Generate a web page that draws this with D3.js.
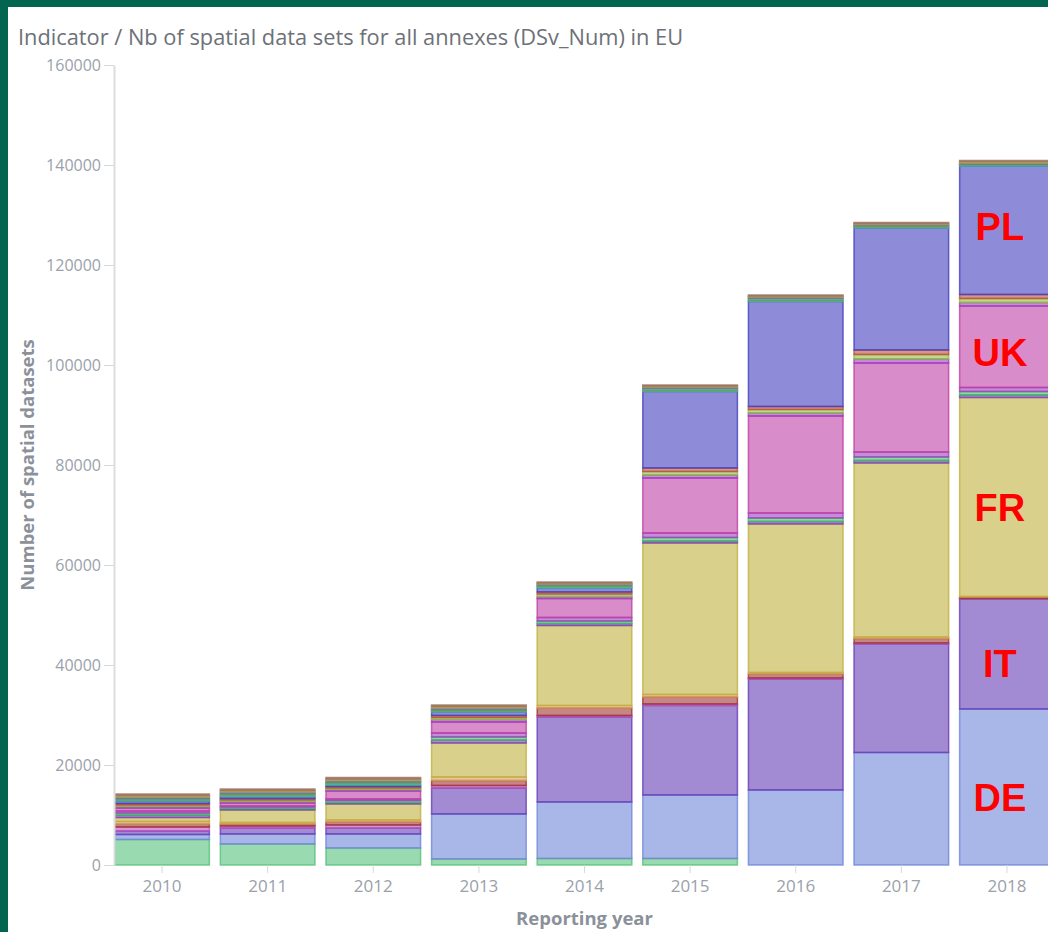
<!DOCTYPE html>
<html>
<head>
<meta charset="utf-8">
<script src="https://cdn.jsdelivr.net/npm/d3@7"></script>
<style>
  html, body { margin: 0; padding: 0; overflow: hidden; background: #02654f; }
  svg { display: block; }
</style>
</head>
<body>
<script>
// data
var years = ["2010", "2011", "2012", "2013", "2014", "2015", "2016", "2017", "2018"];
var yTicks = [0, 20000, 40000, 60000, 80000, 100000, 120000, 140000, 160000];

// datasets per country and year, listed in stack order (bottom to top)
var BE = [5100, 4200, 3400, 1200, 1300, 1300, 0, 0, 0];
var DE = [1000, 2000, 2800, 9000, 11300, 12700, 15000, 22500, 31200];
var IT = [700, 1200, 1200, 5200, 17000, 17900, 22200, 21700, 22000];
var SE = [800, 400, 600, 500, 300, 300, 200, 200, 100];
var ES = [600, 400, 600, 1000, 1500, 1400, 800, 900, 300];
var NL = [500, 300, 400, 700, 500, 500, 300, 300, 100];
var FR = [800, 2500, 3200, 6800, 16000, 30300, 29700, 34800, 39800];
var CZ = [500, 300, 300, 600, 400, 400, 500, 500, 500];
var FI = [400, 300, 400, 600, 500, 700, 700, 700, 700];
var AT = [400, 200, 300, 800, 700, 900, 1000, 1000, 800];
var UK = [600, 600, 1600, 2200, 3800, 11000, 19400, 17800, 16300];
var HU = [300, 300, 300, 500, 400, 600, 600, 800, 700];
var SK = [300, 300, 300, 400, 500, 700, 700, 900, 800];
var PT = [300, 300, 300, 400, 400, 700, 600, 900, 800];
var PL = [500, 400, 300, 700, 800, 15300, 21000, 24400, 25700];
var RO = [200, 300, 300, 200, 300, 200, 200, 200, 200];
var LT = [300, 300, 300, 300, 300, 400, 400, 300, 200];
var SI = [300, 300, 300, 300, 200, 300, 300, 200, 200];
var HR = [300, 300, 300, 300, 200, 200, 200, 200, 300];
var LV = [300, 300, 300, 300, 200, 200, 200, 200, 200];

var countries = ["BE", "DE", "IT", "SE", "ES", "NL", "FR", "CZ", "FI", "AT",
                 "UK", "HU", "SK", "PT", "PL", "RO", "LT", "SI", "HR", "LV"];
var countryValues = [BE, DE, IT, SE, ES, NL, FR, CZ, FI, AT,
                     UK, HU, SK, PT, PL, RO, LT, SI, HR, LV];
var countryColors = ["#57c17b", "#6f87d8", "#663db8", "#bc52bc", "#9e3533", "#daa05d",
                     "#bfb040", "#7a40bf", "#40bf60", "#a040bf", "#bf40a6", "#9f40bf",
                     "#8fbf40", "#bf4d40", "#4340bf", "#40bf9f", "#6a9a50", "#5a78b0",
                     "#bf9f40", "#9a7060"];

// countries highlighted with red labels on the last bar
var labelled = ["DE", "IT", "FR", "UK", "PL"];
var labelDy = { DE: 24, IT: 23, FR: 24, UK: 19, PL: 10 };

// build rows for d3.stack
var rows = years.map(function(y, i) {
  var r = { year: y };
  countries.forEach(function(c, j) { r[c] = countryValues[j][i]; });
  return r;
});

var svgWidth = 1048;
var svgHeight = 932;

var svg = d3.select("body")
  .append("svg")
  .attr("width", svgWidth)
  .attr("height", svgHeight);

// dark green frame and white panel
svg.append("rect")
  .attr("width", svgWidth)
  .attr("height", svgHeight)
  .attr("fill", "#02654f");
svg.append("rect")
  .attr("x", 8)
  .attr("y", 7)
  .attr("width", svgWidth - 8)
  .attr("height", svgHeight - 7)
  .attr("fill", "#ffffff");

// title
svg.append("text")
  .attr("x", 18)
  .attr("y", 45)
  .attr("font-family", "Open Sans")
  .attr("font-size", 21.8)
  .attr("fill", "#6d7178")
  .text("Indicator / Nb of spatial data sets for all annexes (DSv_Num) in EU");

// scales
var plotLeft = 114, plotRight = 1055, plotTop = 65, plotBottom = 865;

var yScale = d3.scaleLinear()
  .domain([0, 160000])
  .range([plotBottom, plotTop]);

var xScale = d3.scaleBand()
  .domain(years)
  .range([plotLeft, plotRight])
  .paddingInner(0.09)
  .paddingOuter(0);

var stacked = d3.stack().keys(countries)(rows);

// bars
var layers = svg.append("g")
  .selectAll("g")
  .data(stacked)
  .join("g")
  .attr("fill", function(d, i) { return countryColors[i]; })
  .attr("stroke", function(d, i) { return countryColors[i]; });

layers.selectAll("rect")
  .data(function(d) { return d.filter(function(p) { return p[1] - p[0] > 0; }); })
  .join("rect")
  .attr("x", function(d) { return xScale(d.data.year) + 0.75; })
  .attr("width", xScale.bandwidth() - 1.5)
  .attr("y", function(d) { return yScale(d[1]); })
  .attr("height", function(d) { return yScale(d[0]) - yScale(d[1]); })
  .attr("fill-opacity", 0.6)
  .attr("stroke-opacity", 0.8)
  .attr("stroke-width", 1.5);

// y axis
var yAxis = d3.axisLeft(yScale)
  .tickValues(yTicks)
  .tickFormat(d3.format("d"))
  .tickSize(10)
  .tickSizeOuter(0)
  .tickPadding(3);

var yAxisG = svg.append("g")
  .attr("transform", "translate(" + plotLeft + ",0)")
  .call(yAxis);
yAxisG.select(".domain").attr("stroke", "#dddddd").attr("stroke-width", 2);
yAxisG.selectAll(".tick line").attr("stroke", "#d8d8d8");
yAxisG.selectAll(".tick text")
  .attr("font-family", "Open Sans")
  .attr("font-size", 16)
  .attr("fill", "#9aa1aa");

// x axis
var xAxis = d3.axisBottom(xScale)
  .tickSize(8)
  .tickSizeOuter(0)
  .tickPadding(7);

var xAxisG = svg.append("g")
  .attr("transform", "translate(0," + plotBottom + ")")
  .call(xAxis);
xAxisG.select(".domain").remove();
xAxisG.selectAll(".tick line").attr("stroke", "#d8d8d8");
xAxisG.selectAll(".tick text")
  .attr("font-family", "Open Sans")
  .attr("font-size", 17)
  .attr("fill", "#9aa1aa");

// axis titles
svg.append("text")
  .attr("transform", "translate(34," + ((plotTop + plotBottom) / 2) + ") rotate(-90)")
  .attr("text-anchor", "middle")
  .attr("font-family", "Open Sans")
  .attr("font-weight", "bold")
  .attr("font-size", 18.5)
  .attr("fill", "#8b919a")
  .text("Number of spatial datasets");

svg.append("text")
  .attr("x", (plotLeft + plotRight) / 2)
  .attr("y", 925)
  .attr("text-anchor", "middle")
  .attr("font-family", "Open Sans")
  .attr("font-weight", "bold")
  .attr("font-size", 18.5)
  .attr("fill", "#8b919a")
  .text("Reporting year");

// red country labels on the 2018 bar
var lastYear = years[years.length - 1];
labelled.forEach(function(c) {
  var seg = stacked[countries.indexOf(c)][years.length - 1];
  var mid = (yScale(seg[0]) + yScale(seg[1])) / 2;
  svg.append("text")
    .attr("x", xScale(lastYear) + 41)
    .attr("y", mid + labelDy[c])
    .attr("text-anchor", "middle")
    .attr("font-family", "Liberation Sans, Arial, sans-serif")
    .attr("font-weight", "bold")
    .attr("font-size", 38)
    .attr("fill", "#ff0000")
    .text(c);
});
</script>
</body>
</html>
